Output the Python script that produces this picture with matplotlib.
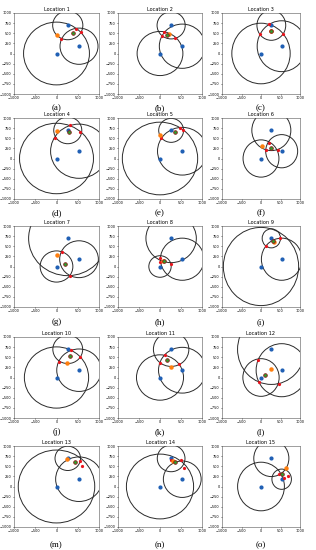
import matplotlib
matplotlib.use("Agg")
import matplotlib.pyplot as plt
from matplotlib.patches import Circle

# anchors (blue)
anchor_x = [0, 265, 530]
anchor_y = [0, 695, 180]

titles = [f"Location {i}" for i in range(1, 16)]
panel_labels = ["(a)", "(b)", "(c)", "(d)", "(e)", "(f)", "(g)", "(h)", "(i)",
                "(j)", "(k)", "(l)", "(m)", "(n)", "(o)"]

# measured ranges (circle radii) per location
radii = [
    [775, 355, 447],
    [545, 335, 546],
    [748, 369, 628],
    [870, 330, 669],
    [897, 296, 589],
    [460, 500, 410],
    [385, 921, 455],
    [266, 600, 520],
    [965, 235, 520],
    [756, 351, 524],
    [560, 422, 565],
    [465, 866, 655],
    [900, 300, 550],
    [800, 330, 450],
    [600, 450, 250],
]

# true location (green)
true_x = [390, 160, 262, 288, 355, 249, 202, 105, 304, 327, 177, 94, 440, 357, 538]
true_y = [508, 454, 563, 658, 645, 267, 67, 140, 625, 525, 425, 58, 600, 605, 308]

# estimated location (orange)
est_x = [16, 224, 262, 8, 8, 17, 8, 70, 322, 257, 258, 255, 256, 300, 640]
est_y = [467, 479, 563, 683, 571, 300, 275, 130, 600, 350, 250, 198, 680, 640, 456]

# pairwise circle intersections (red)
inter_x = [
    [100, 460, 570], [104, 40, 360], [202, -13, 571], [-47, 320, 560], [32, 468, 556],
    [197, 120, 429], [121, 308], [-10, 10, 258], [130, 496], [62, 350, 545],
    [113, -8, 444], [-77, -51, 451], [250, 560, 600], [250, 500, 560], [450, 600, 700],
]
inter_y = [
    [350, 617, 542], [521, 437, 378], [731, 470, 470], [518, 815, 658], [506, 759, 710],
    [375, 200, 200], [367, -225], [205, 120, 66], [517, 692], [392, 683, 508],
    [558, 358, 325], [444, -107, -156], [680, 640, 500], [650, 650, 450], [300, 200, 250],
]

W, H = 316, 550
fig = plt.figure(figsize=(W / 100, H / 100), dpi=100)

col_left = [14, 118, 222]
col_w = [85, 84, 78]
row_top = [13, 118, 226, 337, 446]
row_h = 81
label_y = [108, 213, 322, 432, 545]

for i in range(15):
    r, c = divmod(i, 3)
    l = col_left[c]
    t = row_top[r]
    ax = fig.add_axes([l / W, 1 - (t + row_h) / H, col_w[c] / W, row_h / H])
    ax.set_xlim(-1000, 1000)
    ax.set_ylim(-1000, 1000)
    for j in range(3):
        ax.add_patch(Circle((anchor_x[j], anchor_y[j]), radii[i][j], fill=False,
                            edgecolor="#2a2a2a", linewidth=0.7))
    ax.plot(anchor_x, anchor_y, "o", color="#1f5fb4", markersize=2.0, linestyle="none")
    ax.plot(inter_x[i], inter_y[i], "o", color="#e8141c", markersize=1.3, linestyle="none")
    ax.plot([est_x[i]], [est_y[i]], "o", color="#ff7f0e", markersize=2.2, linestyle="none")
    ax.plot([true_x[i]], [true_y[i]], "o", color="#2ca02c", markersize=2.6,
            markeredgecolor="#8b1a1a", markeredgewidth=0.6, linestyle="none")
    ax.set_xticks([-1000, -500, 0, 500, 1000])
    ax.set_yticks([-1000, -750, -500, -250, 0, 250, 500, 750, 1000])
    ax.tick_params(labelsize=2.5, length=1, width=0.4, pad=0.7)
    for s in ax.spines.values():
        s.set_linewidth(0.4)
        s.set_color("#555555")
    ax.set_title(titles[i], fontsize=3.6, pad=1.5)
    fig.text((l + col_w[c] / 2) / W, 1 - label_y[r] / H, panel_labels[i],
             ha="center", va="center", fontsize=6.5, family="Liberation Serif")

fig.savefig("out.png", dpi=100)
